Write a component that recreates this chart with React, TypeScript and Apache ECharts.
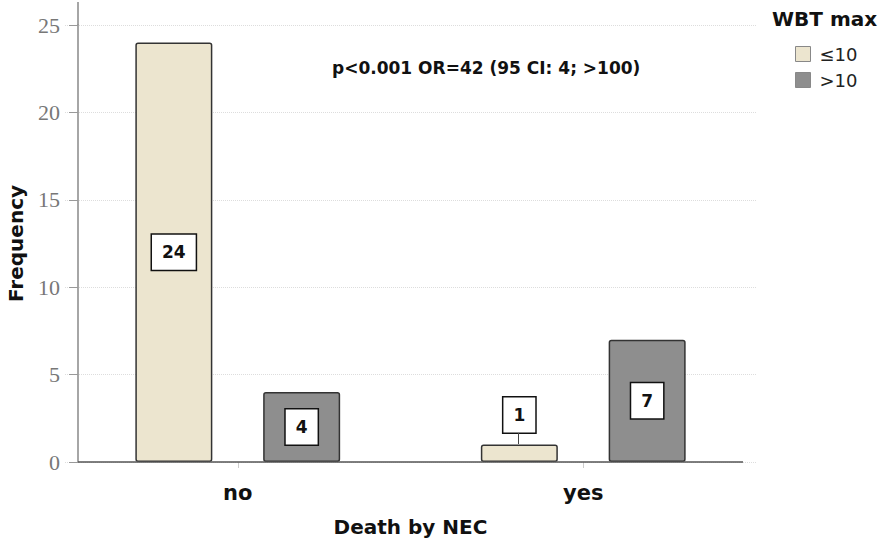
import React, { useEffect, useRef } from "react";
import * as echarts from "echarts";

const categories = ["no", "yes"];
const seriesNames = ["≤10", ">10"];
const lowValues = [24, 1];
const highValues = [4, 7];
const yTicks = { min: 0, max: 25, interval: 5 };
const annotation = "p<0.001 OR=42 (95 CI: 4; >100)";
const legendTitle = "WBT max";
const xName = "Death by NEC";
const yName = "Frequency";

const SANS = "'DejaVu Sans', Verdana, sans-serif";
const SERIF = "'Liberation Serif', 'Times New Roman', serif";

const boxLabel = {
  show: true,
  position: "inside",
  color: "#111",
  fontFamily: SANS,
  fontWeight: "bold",
  fontSize: 17,
  lineHeight: 19,
  backgroundColor: "#fff",
  borderColor: "#111",
  borderWidth: 1.5,
  padding: [8, 10],
  formatter: "{c}",
};

export default function App() {
  const ref = useRef<HTMLDivElement>(null);
  useEffect(() => {
    document.body.style.margin = "0";
    if (!ref.current) return;
    const chart = echarts.init(ref.current, null, { renderer: "svg" });
    chart.setOption({
      animation: false,
      backgroundColor: "#fff",
      grid: { left: 65, right: 130, top: 25, bottom: 87, containLabel: false, outerBoundsMode: "none" },
      title: [
        {
          text: legendTitle,
          left: 767,
          top: 4,
          textStyle: { fontFamily: SANS, fontWeight: "bold", fontSize: 20, color: "#111" },
        },
        {
          text: annotation,
          left: 327,
          top: 54,
          textStyle: { fontFamily: SANS, fontWeight: "bold", fontSize: 17, color: "#111" },
        },
      ],
      legend: {
        data: seriesNames,
        orient: "vertical",
        left: 790,
        top: 40,
        icon: "rect",
        itemWidth: 15,
        itemHeight: 15,
        itemGap: 8,
        selectedMode: false,
        textStyle: { fontFamily: SANS, fontSize: 18, color: "#222", padding: [0, 0, 0, 4] },
        itemStyle: { borderColor: "#888", borderWidth: 1 },
      },
      xAxis: {
        type: "category",
        data: categories,
        axisLine: { show: false },
        axisTick: { show: true, alignWithLabel: true, length: 6, lineStyle: { color: "#ccc" } },
        axisLabel: {
          margin: 20,
          fontFamily: SANS,
          fontWeight: "bold",
          fontSize: 21,
          color: "#111",
        },
        name: xName,
        nameLocation: "middle",
        nameGap: 55,
        nameTextStyle: { fontFamily: SANS, fontWeight: "bold", fontSize: 20, color: "#111" },
      },
      yAxis: {
        type: "value",
        min: yTicks.min,
        max: yTicks.max,
        interval: yTicks.interval,
        offset: -13,
        axisLine: { show: true, lineStyle: { color: "#888", width: 1.5 } },
        axisTick: { show: true, length: 9, lineStyle: { color: "#999" } },
        axisLabel: { margin: 18, fontFamily: SERIF, fontSize: 22, color: "#777" },
        splitLine: { show: true, lineStyle: { color: "#ddd", type: "dotted", width: 1 } },
        name: yName,
        nameLocation: "middle",
        nameGap: 52,
        nameTextStyle: { fontFamily: SANS, fontWeight: "bold", fontSize: 20, color: "#111" },
      },
      series: [
        {
          name: seriesNames[0],
          type: "bar",
          data: lowValues.map((v, i) =>
            i === 1 ? { value: v, label: { position: "top", distance: 12 } } : v
          ),
          barWidth: 77,
          barGap: "66%",
          itemStyle: { color: "#ece5cf", borderColor: "#333", borderWidth: 1.5, borderRadius: 2 },
          label: boxLabel,
        },
        {
          name: seriesNames[1],
          type: "bar",
          data: highValues,
          barWidth: 77,
          itemStyle: { color: "#8e8e8e", borderColor: "#333", borderWidth: 1.5, borderRadius: 2 },
          label: boxLabel,
        },
      ],
      graphic: [
        {
          type: "line",
          shape: { x1: 78, y1: 2, x2: 78, y2: 25 },
          style: { stroke: "#888", lineWidth: 1.5 },
        },
        {
          type: "line",
          shape: { x1: 78, y1: 462, x2: 743, y2: 462 },
          style: { stroke: "#555", lineWidth: 1.5 },
          z: 10,
        },
        {
          type: "line",
          shape: { x1: 518.5, y1: 433, x2: 518.5, y2: 444 },
          style: { stroke: "#444", lineWidth: 1 },
          z: 10,
        },
      ],
    });
    return () => chart.dispose();
  }, []);
  return <div ref={ref} style={{ width: 886, height: 549 }} />;
}
